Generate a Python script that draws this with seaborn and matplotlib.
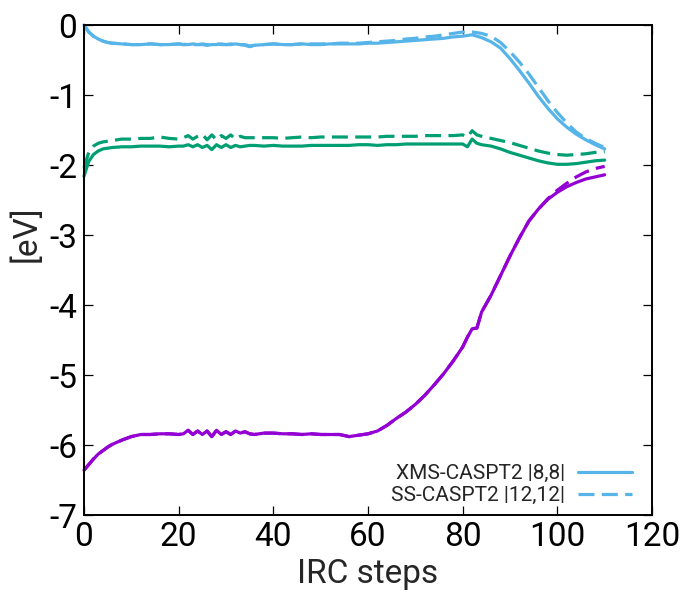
import seaborn as sns
import matplotlib.pyplot as plt
import pandas as pd

# IRC step grid (denser where the curves zigzag)
steps = [0, 1, 2, 3, 4, 5, 6, 8, 10, 12, 14, 16, 18, 20,
         21, 22, 23, 24, 25, 26, 27, 28, 29, 30, 31, 32, 33, 34, 35, 36,
         38, 40, 42, 44, 46, 48, 50, 52, 54, 56, 58, 60, 62, 64, 66, 68, 70,
         72, 74, 76, 78, 80, 81, 82, 83, 84,
         86, 88, 90, 92, 94, 96, 98, 100, 102, 104, 106, 108, 110]

# upper state (light blue)
xms_s3 = [0.00, -0.10, -0.16, -0.20, -0.23, -0.25, -0.26, -0.27, -0.28, -0.28, -0.27, -0.28, -0.28, -0.27,
          -0.28, -0.28, -0.27, -0.28, -0.28, -0.29, -0.28, -0.28, -0.27, -0.28, -0.28, -0.27, -0.28, -0.29, -0.31, -0.29,
          -0.28, -0.27, -0.28, -0.28, -0.27, -0.28, -0.28, -0.27, -0.27, -0.27, -0.27, -0.26, -0.26, -0.25, -0.24, -0.23, -0.22,
          -0.21, -0.20, -0.19, -0.17, -0.16, -0.15, -0.14, -0.16, -0.18,
          -0.24, -0.33, -0.48, -0.65, -0.83, -1.02, -1.19, -1.34, -1.46, -1.56, -1.64, -1.71, -1.77]
ss_s3 = [0.00, -0.10, -0.16, -0.20, -0.23, -0.25, -0.26, -0.27, -0.28, -0.28, -0.27, -0.28, -0.28, -0.27,
         -0.28, -0.27, -0.28, -0.28, -0.27, -0.28, -0.28, -0.27, -0.28, -0.28, -0.27, -0.28, -0.28, -0.28, -0.30, -0.29,
         -0.28, -0.27, -0.28, -0.28, -0.27, -0.27, -0.27, -0.27, -0.26, -0.26, -0.26, -0.25, -0.24, -0.23, -0.22, -0.20, -0.19,
         -0.17, -0.16, -0.14, -0.12, -0.10, -0.10, -0.10, -0.11, -0.12,
         -0.16, -0.25, -0.38, -0.53, -0.70, -0.89, -1.08, -1.25, -1.40, -1.53, -1.62, -1.69, -1.75]

# middle state (green)
xms_s2 = [-2.16, -1.95, -1.85, -1.80, -1.77, -1.76, -1.75, -1.74, -1.74, -1.73, -1.73, -1.73, -1.74, -1.73,
          -1.73, -1.71, -1.74, -1.71, -1.75, -1.72, -1.78, -1.71, -1.75, -1.71, -1.75, -1.72, -1.74, -1.73, -1.72, -1.72,
          -1.73, -1.72, -1.73, -1.73, -1.73, -1.72, -1.72, -1.72, -1.72, -1.72, -1.71, -1.71, -1.72, -1.71, -1.71, -1.70, -1.70,
          -1.70, -1.70, -1.70, -1.70, -1.70, -1.74, -1.63, -1.69, -1.71,
          -1.73, -1.77, -1.82, -1.86, -1.90, -1.94, -1.97, -1.99, -1.99, -1.98, -1.96, -1.94, -1.93]
ss_s2 = [-2.04, -1.82, -1.73, -1.69, -1.67, -1.66, -1.65, -1.63, -1.63, -1.62, -1.62, -1.60, -1.62, -1.63,
         -1.61, -1.58, -1.63, -1.59, -1.56, -1.64, -1.57, -1.64, -1.58, -1.62, -1.57, -1.63, -1.59, -1.61, -1.61, -1.61,
         -1.61, -1.61, -1.62, -1.61, -1.60, -1.61, -1.60, -1.60, -1.60, -1.60, -1.60, -1.60, -1.60, -1.59, -1.59, -1.59, -1.59,
         -1.58, -1.58, -1.58, -1.58, -1.57, -1.60, -1.51, -1.57, -1.59,
         -1.62, -1.65, -1.68, -1.72, -1.76, -1.80, -1.83, -1.85, -1.86, -1.85, -1.84, -1.82, -1.81]

# lower state (purple)
xms_s1 = [-6.36, -6.28, -6.20, -6.13, -6.08, -6.03, -5.99, -5.93, -5.88, -5.85, -5.85, -5.84, -5.84, -5.85,
          -5.84, -5.79, -5.85, -5.80, -5.85, -5.80, -5.88, -5.79, -5.85, -5.81, -5.85, -5.80, -5.83, -5.81, -5.84, -5.85,
          -5.83, -5.83, -5.84, -5.84, -5.85, -5.84, -5.85, -5.85, -5.85, -5.88, -5.86, -5.84, -5.80, -5.72, -5.62, -5.53, -5.42,
          -5.29, -5.14, -4.98, -4.80, -4.60, -4.46, -4.34, -4.33, -4.10,
          -3.86, -3.58, -3.30, -3.04, -2.80, -2.63, -2.49, -2.39, -2.31, -2.25, -2.20, -2.17, -2.14]
ss_s1 = [-6.36, -6.28, -6.20, -6.13, -6.08, -6.03, -5.99, -5.93, -5.88, -5.85, -5.85, -5.84, -5.84, -5.85,
         -5.84, -5.79, -5.85, -5.80, -5.85, -5.80, -5.88, -5.79, -5.85, -5.81, -5.85, -5.80, -5.83, -5.81, -5.84, -5.85,
         -5.83, -5.83, -5.84, -5.84, -5.85, -5.84, -5.85, -5.85, -5.85, -5.88, -5.86, -5.84, -5.80, -5.72, -5.62, -5.53, -5.42,
         -5.29, -5.14, -4.98, -4.80, -4.60, -4.46, -4.34, -4.33, -4.10,
         -3.86, -3.58, -3.30, -3.04, -2.80, -2.63, -2.48, -2.36, -2.26, -2.17, -2.10, -2.05, -2.02]

colors = {'S3': '#56b4e9', 'S2': '#009e73', 'S1': '#9400d3'}
xticks = [0, 20, 40, 60, 80, 100, 120]
yticks = [0, -1, -2, -3, -4, -5, -6, -7]

sns.set_theme(style='ticks')
plt.rcParams['font.family'] = ['Roboto', 'DejaVu Sans']
plt.rcParams['axes.unicode_minus'] = False

fig = plt.figure(figsize=(6.9, 5.95), dpi=100)
ax = fig.add_axes([84 / 690, 1 - 515 / 595, 568 / 690, 490 / 595])

series = [('S3', xms_s3, '-'), ('S3', ss_s3, '--'),
          ('S2', xms_s2, '-'), ('S2', ss_s2, '--'),
          ('S1', xms_s1, '-'), ('S1', ss_s1, '--')]
for state, vals, ls in series:
    df = pd.DataFrame({'step': steps, 'E': vals})
    kw = dict(linestyle=(0, (5, 2.3))) if ls == '--' else dict(linestyle='-')
    sns.lineplot(data=df, x='step', y='E', color=colors[state], lw=2.3,
                 errorbar=None, ax=ax, clip_on=False, **kw)

ax.set_xlim(0, 120)
ax.set_ylim(-7, 0)
ax.set_xticks(xticks)
ax.set_yticks(yticks)
ax.tick_params(direction='in', length=6.5, width=0.9, labelsize=24,
               top=True, right=True, colors='black')
ax.tick_params(axis='x', pad=4)
ax.tick_params(axis='y', pad=5)
for sp in ax.spines.values():
    sp.set_linewidth(1.4)
    sp.set_color('black')

ax.set_xlabel('IRC steps', fontsize=24, labelpad=4)
ax.set_ylabel('[eV]', fontsize=24)
ax.yaxis.set_label_coords(-0.072, 0.573)

lines = ax.get_lines()
leg = ax.legend([lines[0], lines[1]], ['XMS-CASPT2 |8,8|', 'SS-CASPT2 |12,12|'],
                loc='lower right', bbox_to_anchor=(0.965, 0.02), frameon=False,
                markerfirst=False, fontsize=15, handlelength=2.6, handletextpad=0.6,
                borderpad=0, borderaxespad=0, labelspacing=0.15)

fig.savefig('out.png', dpi=100)
